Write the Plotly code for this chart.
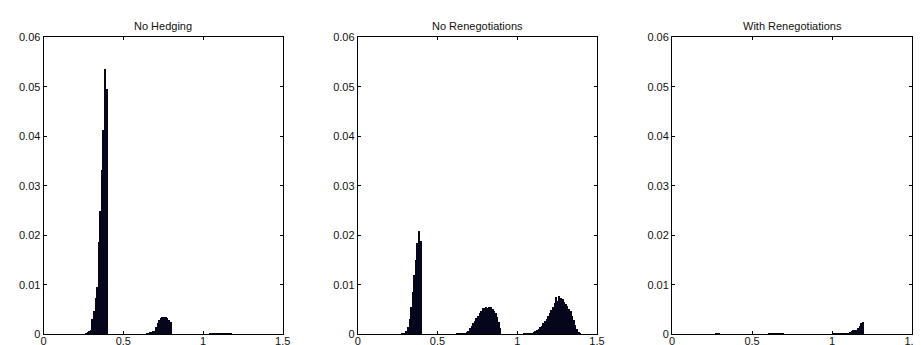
import numpy as np
import plotly.graph_objects as go

BIN = 0.01
titles = ["No Hedging", "No Renegotiations", "With Renegotiations"]
x_ticks = [0, 0.5, 1, 1.5]
y_ticks = [0, 0.01, 0.02, 0.03, 0.04, 0.05, 0.06]

# --- No Hedging: (bin left edge of first bin, heights) ---
nh_a_start = 0.26
nh_a = [0.0002, 0.0004, 0.0007, 0.0009, 0.0030, 0.0047, 0.0074, 0.0095,
        0.0186, 0.0248, 0.0332, 0.0412, 0.0536, 0.0495]
nh_b_start = 0.64
nh_b = [0.0002, 0.0003, 0.0004, 0.0005, 0.0006, 0.0007, 0.0014, 0.0022,
        0.0029, 0.0032, 0.0034, 0.0035, 0.0034, 0.0032, 0.0028, 0.0024]
nh_c_start = 1.04
nh_c = [0.0001, 0.0001, 0.0001, 0.0001, 0.0001, 0.0002, 0.0001, 0.0002,
        0.0001, 0.0002, 0.0002, 0.0002, 0.0001, 0.0001]

# --- No Renegotiations ---
nr_a_start = 0.27
nr_a = [0.0001, 0.0002, 0.0003, 0.0006, 0.0015, 0.0030, 0.0055, 0.0085,
        0.0120, 0.0150, 0.0185, 0.0209, 0.0189]
nr_b_start = 0.62
nr_b = [0.0001, 0.0001, 0.0002, 0.0002, 0.0003, 0.0003, 0.0004, 0.0006,
        0.0012, 0.0017, 0.0022, 0.0027, 0.0032, 0.0036, 0.0042, 0.0048,
        0.0054, 0.0054, 0.0055, 0.0053, 0.0056, 0.0055, 0.0052, 0.0048,
        0.0042, 0.0034, 0.0025, 0.0012]
nr_c_start = 1.04
nr_c = [0.0001, 0.0001, 0.0001, 0.0002, 0.0002, 0.0003, 0.0004, 0.0006,
        0.0008, 0.0011, 0.0014, 0.0017, 0.0022, 0.0027, 0.0031, 0.0036,
        0.0042, 0.0049, 0.0056, 0.0064, 0.0076, 0.0068, 0.0077, 0.0074,
        0.0072, 0.0066, 0.0062, 0.0058, 0.0052, 0.0046, 0.0037, 0.0028,
        0.0019, 0.0011, 0.0005, 0.0002]

# --- With Renegotiations ---
wr_a_start = 0.27
wr_a = [0.0002, 0.0002, 0.0001]
wr_b_start = 0.60
wr_b = [0.0001, 0.0001, 0.0001, 0.0001, 0.0002, 0.0002, 0.0002, 0.0003,
        0.0003, 0.0002]
wr_c_start = 1.00
wr_c = [0.0001, 0.0001, 0.0001, 0.0001, 0.0001, 0.0001, 0.0001, 0.0001,
        0.0002, 0.0002, 0.0003, 0.0004, 0.0007, 0.0008, 0.0008, 0.0009,
        0.0012, 0.0017, 0.0022, 0.0025]

panels = [
    [(nh_a_start, nh_a), (nh_b_start, nh_b), (nh_c_start, nh_c)],
    [(nr_a_start, nr_a), (nr_b_start, nr_b), (nr_c_start, nr_c)],
    [(wr_a_start, wr_a), (wr_b_start, wr_b), (wr_c_start, wr_c)],
]

W, H = 921, 345
x_dom_px = [(33, 275), (351, 593), (669, 912)]
y_top_px, y_bot_px = 24, 332
y_dom = [(H - y_bot_px) / H, (H - y_top_px) / H]

fig = go.Figure()
BAR_COLOR = "#05051c"
FONT = "Liberation Sans, Arial, sans-serif"

for i, segs in enumerate(panels):
    xs, ys = [], []
    for start, vals in segs:
        for k, v in enumerate(vals):
            xs.append(round(start + BIN * (k + 0.5), 4))
            ys.append(v)
    sfx = "" if i == 0 else str(i + 1)
    fig.add_trace(go.Bar(x=xs, y=ys, width=BIN, marker=dict(color=BAR_COLOR, line=dict(width=0)),
                         xaxis="x" + sfx, yaxis="y" + sfx, showlegend=False))
    x0, x1 = x_dom_px[i]
    axcommon = dict(showgrid=False, zeroline=False, showline=True, linecolor="black", linewidth=1,
                    mirror="allticks", ticks="inside", ticklen=3, tickcolor="black", tickwidth=1,
                    tickfont=dict(family=FONT, size=11, color="#111"))
    fig.update_layout(**{
        "xaxis" + sfx: dict(domain=[x0 / W, x1 / W], range=[0, 1.5], tickvals=x_ticks,
                            anchor="y" + sfx, ticklabelstandoff=-4, **axcommon),
        "yaxis" + sfx: dict(domain=y_dom, range=[0, 0.06], tickvals=y_ticks,
                            ticktext=[str(t) if t != 0 else "0" for t in y_ticks],
                            anchor="x" + sfx, **axcommon),
    })
    fig.add_annotation(text=titles[i], x=(x0 + x1) / 2 / W, y=(H - 12) / H, xref="paper", yref="paper",
                       showarrow=False, xanchor="center", yanchor="middle",
                       font=dict(family=FONT, size=11, color="#111"))

fig.update_layout(width=W, height=H, margin=dict(l=0, r=0, t=0, b=0), bargap=0,
                  plot_bgcolor="white", paper_bgcolor="white")
fig.write_html("out.html")
